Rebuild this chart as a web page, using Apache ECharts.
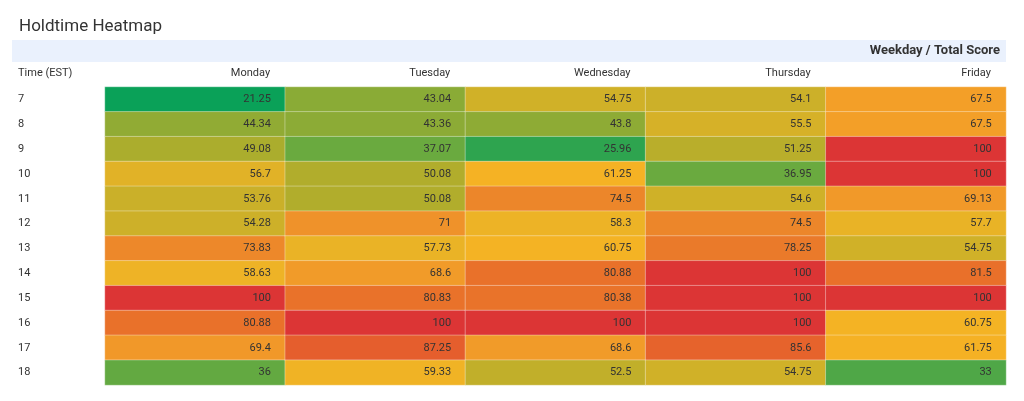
<!DOCTYPE html>
<html><head><meta charset="utf-8">
<script src="https://cdn.jsdelivr.net/npm/echarts@6/dist/echarts.min.js"></script>
<style>html,body{margin:0;background:#fff}#c{width:1024px;height:401px}</style>
</head><body><div id="c"></div>
<script>
const days = ['Monday','Tuesday','Wednesday','Thursday','Friday'];
const hours = ['7','8','9','10','11','12','13','14','15','16','17','18'];
const monday = [21.25,44.34,49.08,56.7,53.76,54.28,73.83,58.63,100,80.88,69.4,36];
const tuesday = [43.04,43.36,37.07,50.08,50.08,71,57.73,68.6,80.83,100,87.25,59.33];
const wednesday = [54.75,43.8,25.96,61.25,74.5,58.3,60.75,80.88,80.38,100,68.6,52.5];
const thursday = [54.1,55.5,51.25,36.95,54.6,74.5,78.25,100,100,100,85.6,54.75];
const friday = [67.5,67.5,100,100,69.13,57.7,54.75,81.5,100,60.75,61.75,33];
const cols = [monday,tuesday,wednesday,thursday,friday];

const stops = [[20,'#00a05a'],[26,'#2ea44f'],[33,'#4fa747'],[37,'#6aaa3f'],[44,'#8fab35'],[50,'#b0ad2c'],[55,'#d2b128'],[58,'#ecb326'],[61,'#f5b324'],[66,'#f4a526'],[70,'#f0962a'],[75,'#ec842a'],[81,'#e9712a'],[87,'#e55f2d'],[100,'#dc3535']];
function hex(c){return [1,3,5].map(i=>parseInt(c.substr(i,2),16));}
function colorFor(v){
  for(let i=1;i<stops.length;i++){
    if(v<=stops[i][0]){
      const a=stops[i-1],b=stops[i];const t=(v-a[0])/(b[0]-a[0]);
      const ca=hex(a[1]),cb=hex(b[1]);
      return 'rgb('+ca.map((x,k)=>Math.round(x+(cb[k]-x)*t)).join(',')+')';
    }
  }
  return stops[stops.length-1][1];
}
const data=[];
cols.forEach((col,x)=>col.forEach((v,y)=>data.push({value:[x,y,v],itemStyle:{color:colorFor(v)}})));

const chart=echarts.init(document.getElementById('c'));
chart.setOption({
  animation:false,
  title:{text:'Holdtime Heatmap',left:14,top:13,textStyle:{fontSize:17,fontWeight:'normal',color:'#333',fontFamily:'Roboto'}},
  graphic:[
    {type:'rect',shape:{x:12,y:40,width:994,height:22},style:{fill:'#eaf1fd'},z:-1},
    {type:'text',left:null,right:24,top:44,style:{text:'Weekday / Total Score',font:'bold 13px Roboto',fill:'#333'}},
    {type:'text',left:18,top:68,style:{text:'Time (EST)',font:'11px Roboto',fill:'#333'}}
  ],
  grid:{left:105,right:18,top:87,bottom:16},
  xAxis:{type:'category',data:days,position:'top',axisLine:{show:false},axisTick:{show:false},splitLine:{show:false},
    axisLabel:{margin:8,formatter:v=>'{a|'+v+'}',rich:{a:{width:150,align:'right',fontSize:11,color:'#333',fontFamily:'Roboto'}}}},
  yAxis:{type:'category',data:hours,inverse:true,axisLine:{show:false},axisTick:{show:false},splitLine:{show:false},
    axisLabel:{align:'left',margin:87,fontSize:11,color:'#333',fontFamily:'Roboto'}},
  series:[{type:'heatmap',data:data,
    itemStyle:{borderColor:'rgba(255,255,255,0.35)',borderWidth:1},
    label:{show:true,position:'insideRight',distance:15,formatter:p=>p.value[2],fontSize:11,color:'#333',fontFamily:'Roboto'}}]
});
</script></body></html>
